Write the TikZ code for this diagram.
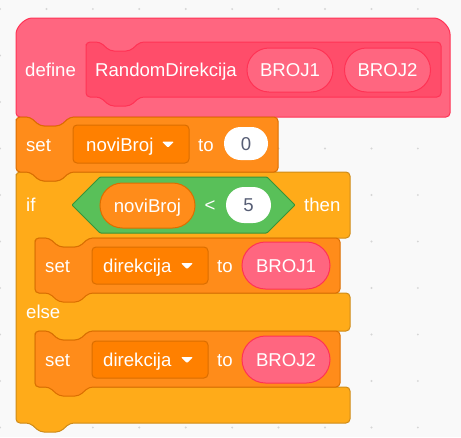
\documentclass[tikz,border=0pt]{standalone}
\usepackage{fontspec}
\setmainfont{Liberation Sans}

\definecolor{procfill}{HTML}{FF6680}
\definecolor{procinner}{HTML}{FF4D6A}
\definecolor{procline}{HTML}{FF3355}
\definecolor{datafill}{HTML}{FF8C1A}
\definecolor{datadark}{HTML}{FF8000}
\definecolor{dataline}{HTML}{DB6E00}
\definecolor{ctrlfill}{HTML}{FFAB19}
\definecolor{ctrlline}{HTML}{CF8B17}
\definecolor{opfill}{HTML}{59C059}
\definecolor{opline}{HTML}{389438}
\definecolor{numtext}{HTML}{575E75}
\definecolor{workspace}{HTML}{F9F9F9}
\definecolor{griddot}{HTML}{D6D6D6}

% stack block outline: left, top, right, bottom (notch on top, bump below)
\newcommand\stackpath[4]{(#1,#2+6) -- (#1,#2) -- (#1+14,#2) -- (#1+24,#2+9) -- (#1+44,#2+9) -- (#1+54,#2) -- (#3,#2) -- (#3,#4) -- (#1+54,#4) -- (#1+44,#4+9) -- (#1+24,#4+9) -- (#1+14,#4) -- (#1,#4) -- cycle}

\tikzset{
  blk/.style={line width=1pt, rounded corners=4pt},
  lbl/.style={text=white, inner sep=0pt, anchor=west, text height=13.3pt, text depth=0pt,
    font=\fontsize{18.6}{22}\selectfont},
  pill/.style={inner sep=0pt, line width=1pt, text height=13.3pt, text depth=0pt,
    font=\fontsize{18.6}{22}\selectfont},
  numpill/.style={pill, fill=white, text=numtext},
  argpill/.style={pill, fill=procfill, draw=procline, text=white, rounded corners=22pt},
  dropbox/.style={fill=datadark, draw=dataline, line width=1pt, rounded corners=4pt, inner sep=0pt},
  ddarrow/.style={fill=white, rounded corners=1pt}
}

\begin{document}
\begin{tikzpicture}[x=1pt,y=-1pt]
\useasboundingbox (0,0) rectangle (461,437);
\fill[workspace] (0,0) rectangle (461,437);
\foreach \i in {0,...,10}
  \foreach \j in {0,...,9}
    \fill[griddot] (46.43*\i,9+46.5*\j) circle (1.1);

% define hat
\draw[blk, fill=procfill, draw=procline] (16,80) -- (16,38) arc[start angle=180,end angle=270,radius=20]
  -- (430,18) arc[start angle=270,end angle=360,radius=20] -- (450,117) -- (70,117) -- (60,126)
  -- (40,126) -- (30,117) -- (16,117) -- cycle;
\draw[blk, fill=procinner, draw=procline] \stackpath{86}{42}{441}{97};
\node[lbl] (define) at (25,70) {define};
\node[lbl] (procname) at (95,70) {RandomDirekcija};
\node[argpill, minimum width=86pt, minimum height=44pt] (broj1) at (290,70) {BROJ1};
\node[argpill, minimum width=86pt, minimum height=44pt] (broj2) at (387.5,70) {BROJ2};

% if / else
\draw[blk, fill=ctrlfill, draw=ctrlline] (16,178) -- (16,172) -- (30,172) -- (40,181) -- (60,181)
  -- (70,172) -- (350,172) -- (350,238) -- (89,238) -- (79,247) -- (59,247) -- (49,238)
  -- (35,238) -- (35,293) -- (350,293) -- (350,331) -- (89,331) -- (79,340) -- (59,340)
  -- (49,331) -- (35,331) -- (35,387) -- (350,387) -- (350,423) -- (70,423) -- (60,432)
  -- (40,432) -- (30,423) -- (16,423) -- cycle;
\node[lbl] (iflbl) at (26,205) {if};
\draw[line width=1pt, fill=opfill, draw=opline, rounded corners=1pt] (72,205) -- (100,177) -- (267,177)
  -- (295,205) -- (267,233) -- (100,233) -- cycle;
\node[pill, fill=datafill, draw=dataline, text=white, rounded corners=22.5pt,
  minimum width=95pt, minimum height=45pt] (cmpvar) at (147.5,205.5) {noviBroj};
\node[lbl, anchor=center] (lt) at (210,205) {<};
\node[numpill, rounded corners=18pt, minimum width=45pt, minimum height=36pt] (five) at (248.5,205) {5};
\node[lbl] (then) at (304,205) {then};
\node[lbl] (elselbl) at (26,312) {else};

% set noviBroj to 0
\draw[blk, fill=datafill, draw=dataline] \stackpath{16}{117}{278}{172};
\node[lbl] (set0) at (26,144.5) {set};
\node[dropbox, minimum width=116pt, minimum height=38pt] (dd0) at (131,144) {};
\node[lbl] (dd0txt) at (86,144.5) {noviBroj};
\fill[ddarrow] (162,141.5) -- (174,141.5) -- (168,147.5) -- cycle;
\node[lbl] (to0) at (198,144.5) {to};
\node[numpill, rounded corners=16.5pt, minimum width=44pt, minimum height=33pt] (zero) at (246,143.5) {0};

% set direkcija to BROJ1
\draw[blk, fill=datafill, draw=dataline] \stackpath{35}{238}{340}{293};
\node[lbl] (set1) at (45,265.5) {set};
\node[dropbox, minimum width=116pt, minimum height=37pt] (dd1) at (150,265.5) {};
\node[lbl] (dd1txt) at (103,265.5) {direkcija};
\fill[ddarrow] (181,263) -- (193,263) -- (187,269) -- cycle;
\node[lbl] (to1) at (217,265.5) {to};
\node[argpill, minimum width=88pt, minimum height=47pt, rounded corners=23.5pt] (val1) at (286,265.5) {BROJ1};

% set direkcija to BROJ2
\draw[blk, fill=datafill, draw=dataline] \stackpath{35}{331}{340}{387};
\node[lbl] (set2) at (45,359.5) {set};
\node[dropbox, minimum width=116pt, minimum height=37pt] (dd2) at (150,359.5) {};
\node[lbl] (dd2txt) at (103,359.5) {direkcija};
\fill[ddarrow] (181,357) -- (193,357) -- (187,363) -- cycle;
\node[lbl] (to2) at (217,359.5) {to};
\node[argpill, minimum width=88pt, minimum height=47pt, rounded corners=23.5pt] (val2) at (286,359.5) {BROJ2};
\end{tikzpicture}
\end{document}
